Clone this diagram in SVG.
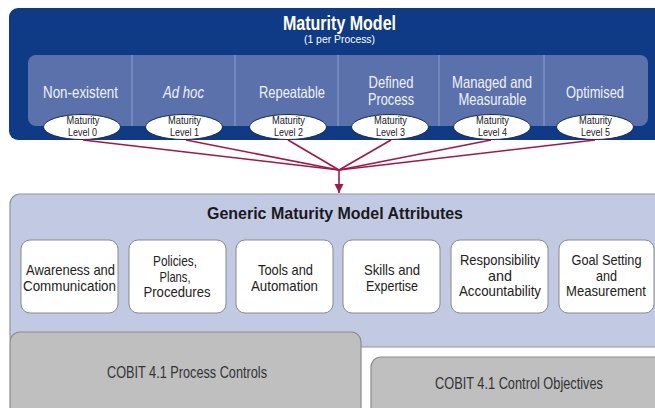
<svg xmlns="http://www.w3.org/2000/svg" width="655" height="408" viewBox="0 0 655 408">
<defs>
<style>
text{font-family:"Liberation Sans",Arial,sans-serif;text-anchor:middle}
.ttl{font-weight:bold;fill:#fff;font-size:20px}
.sub{fill:#fff;font-size:11.5px}
.lvl{fill:#eef1f8;font-size:16.5px}
.ell{fill:#fff;stroke:#1b2b55;stroke-width:1}
.el{fill:#1a1a1a;font-size:10.5px}
.attr{fill:#fff;stroke:#8a8a8a;stroke-width:1}
.at{fill:#222;font-size:15px}
.at2{fill:#222;font-size:14px}
.gray{fill:#bfbfbf;stroke:#8c8c8c;stroke-width:1.2}
.gt{fill:#333;font-size:16px}
.con{stroke:#a3164a;stroke-width:1.6;fill:none}
.div{stroke:#8e9fcf;stroke-width:1}
</style>
<marker id="arr" markerWidth="9" markerHeight="13" refX="10" refY="5" orient="auto" markerUnits="userSpaceOnUse" viewBox="0 0 10 10">
<path d="M0,0 L10,5 L0,10 z" fill="#a3164a"/>
</marker>
</defs>
<rect width="655" height="408" fill="#fff"/>

<g id="maturity-model">
<rect x="9" y="8" width="660" height="132" rx="9" fill="#0f3a85"/>
<rect x="28" y="55" width="620" height="71" rx="8" fill="#5b71ab"/>
<line class="div" x1="132" y1="55" x2="132" y2="126"/>
<line class="div" x1="235" y1="55" x2="235" y2="126"/>
<line class="div" x1="338" y1="55" x2="338" y2="126"/>
<line class="div" x1="439" y1="55" x2="439" y2="126"/>
<line class="div" x1="544" y1="55" x2="544" y2="126"/>
<text class="ttl" x="339.5" y="30" textLength="113" lengthAdjust="spacingAndGlyphs">Maturity Model</text>
<text class="sub" x="339.5" y="43" textLength="71" lengthAdjust="spacingAndGlyphs">(1 per Process)</text>
</g>

<g id="level0">
<text class="lvl" x="80.5" y="98" textLength="75" lengthAdjust="spacingAndGlyphs">Non-existent</text>
<ellipse class="ell" cx="82" cy="127" rx="38.5" ry="12.5"/>
<text class="el" x="83" y="123.5" textLength="33" lengthAdjust="spacingAndGlyphs">Maturity</text>
<text class="el" x="82.5" y="135.5" textLength="29" lengthAdjust="spacingAndGlyphs">Level 0</text>
</g>
<g id="level1">
<text class="lvl" x="183.5" y="98" font-style="italic" textLength="41" lengthAdjust="spacingAndGlyphs">Ad hoc</text>
<ellipse class="ell" cx="184" cy="127" rx="38.5" ry="12.5"/>
<text class="el" x="184.5" y="123.5" textLength="33" lengthAdjust="spacingAndGlyphs">Maturity</text>
<text class="el" x="184.5" y="135.5" textLength="29" lengthAdjust="spacingAndGlyphs">Level 1</text>
</g>
<g id="level2">
<text class="lvl" x="292" y="98" textLength="66" lengthAdjust="spacingAndGlyphs">Repeatable</text>
<ellipse class="ell" cx="288" cy="127" rx="38.5" ry="12.5"/>
<text class="el" x="288.5" y="123.5" textLength="33" lengthAdjust="spacingAndGlyphs">Maturity</text>
<text class="el" x="288.5" y="135.5" textLength="29" lengthAdjust="spacingAndGlyphs">Level 2</text>
</g>
<g id="level3">
<text class="lvl" x="391" y="88" textLength="45" lengthAdjust="spacingAndGlyphs">Defined</text>
<text class="lvl" x="391" y="105" textLength="46" lengthAdjust="spacingAndGlyphs">Process</text>
<ellipse class="ell" cx="390" cy="127" rx="38.5" ry="12.5"/>
<text class="el" x="390.5" y="123.5" textLength="33" lengthAdjust="spacingAndGlyphs">Maturity</text>
<text class="el" x="390.5" y="135.5" textLength="29" lengthAdjust="spacingAndGlyphs">Level 3</text>
</g>
<g id="level4">
<text class="lvl" x="492" y="88" textLength="80" lengthAdjust="spacingAndGlyphs">Managed and</text>
<text class="lvl" x="492.5" y="105" textLength="68" lengthAdjust="spacingAndGlyphs">Measurable</text>
<ellipse class="ell" cx="492" cy="127" rx="38.5" ry="12.5"/>
<text class="el" x="492.5" y="123.5" textLength="33" lengthAdjust="spacingAndGlyphs">Maturity</text>
<text class="el" x="492.5" y="135.5" textLength="29" lengthAdjust="spacingAndGlyphs">Level 4</text>
</g>
<g id="level5">
<text class="lvl" x="595" y="98" textLength="58" lengthAdjust="spacingAndGlyphs">Optimised</text>
<ellipse class="ell" cx="595" cy="127" rx="38.5" ry="12.5"/>
<text class="el" x="595.5" y="123.5" textLength="33" lengthAdjust="spacingAndGlyphs">Maturity</text>
<text class="el" x="595.5" y="135.5" textLength="29" lengthAdjust="spacingAndGlyphs">Level 5</text>
</g>

<g id="connectors">
<line class="con" x1="83" y1="140" x2="339" y2="170"/>
<line class="con" x1="186" y1="140" x2="339" y2="170"/>
<line class="con" x1="288" y1="140" x2="339" y2="170"/>
<line class="con" x1="391" y1="140" x2="339" y2="170"/>
<line class="con" x1="491" y1="140" x2="339" y2="170"/>
<line class="con" x1="595" y1="140" x2="339" y2="170"/>
<line class="con" x1="339" y1="170" x2="339" y2="193" marker-end="url(#arr)"/>
</g>

<g id="attributes">
<rect x="10" y="194" width="660" height="153" rx="10" fill="#c2c9e3" stroke="#8e94a8" stroke-width="1.2"/>
<text x="335" y="219" font-weight="bold" font-size="17" fill="#1a1a1a" textLength="256" lengthAdjust="spacingAndGlyphs">Generic Maturity Model Attributes</text>
</g>

<g id="awareness">
<rect class="attr" x="21" y="240" width="97" height="73" rx="9"/>
<text class="at" x="70.5" y="275" textLength="89" lengthAdjust="spacingAndGlyphs">Awareness and</text>
<text class="at" x="69.5" y="291" textLength="93" lengthAdjust="spacingAndGlyphs">Communication</text>
</g>
<g id="policies">
<rect class="attr" x="129" y="240" width="97" height="73" rx="9"/>
<text class="at" x="175" y="266" textLength="44" lengthAdjust="spacingAndGlyphs">Policies,</text>
<text class="at" x="175" y="281.5" textLength="31" lengthAdjust="spacingAndGlyphs">Plans,</text>
<text class="at" x="177" y="297" textLength="67" lengthAdjust="spacingAndGlyphs">Procedures</text>
</g>
<g id="tools">
<rect class="attr" x="236" y="240" width="97" height="73" rx="9"/>
<text class="at" x="285.5" y="275" textLength="55" lengthAdjust="spacingAndGlyphs">Tools and</text>
<text class="at" x="284.5" y="291" textLength="67" lengthAdjust="spacingAndGlyphs">Automation</text>
</g>
<g id="skills">
<rect class="attr" x="343" y="240" width="97" height="73" rx="9"/>
<text class="at" x="392" y="275" textLength="56" lengthAdjust="spacingAndGlyphs">Skills and</text>
<text class="at" x="392" y="291" textLength="52" lengthAdjust="spacingAndGlyphs">Expertise</text>
</g>
<g id="responsibility">
<rect class="attr" x="451" y="240" width="97" height="73" rx="9"/>
<text class="at" x="500" y="265" textLength="80" lengthAdjust="spacingAndGlyphs">Responsibility</text>
<text class="at" x="500" y="280.5" textLength="24" lengthAdjust="spacingAndGlyphs">and</text>
<text class="at" x="500" y="296" textLength="82" lengthAdjust="spacingAndGlyphs">Accountability</text>
</g>
<g id="goal">
<rect class="attr" x="559" y="240" width="95" height="73" rx="9"/>
<text class="at" x="606.5" y="265" textLength="70" lengthAdjust="spacingAndGlyphs">Goal Setting</text>
<text class="at" x="606.5" y="280.5" textLength="21" lengthAdjust="spacingAndGlyphs">and</text>
<text class="at2" x="606" y="296" textLength="80" lengthAdjust="spacingAndGlyphs">Measurement</text>
</g>

<g id="process-controls">
<rect class="gray" x="10" y="332" width="351" height="100" rx="10"/>
<text class="gt" x="187" y="378" textLength="160" lengthAdjust="spacingAndGlyphs">COBIT 4.1 Process Controls</text>
</g>
<g id="control-objectives">
<rect class="gray" x="371" y="357" width="300" height="80" rx="10"/>
<text class="gt" x="519" y="389" textLength="168" lengthAdjust="spacingAndGlyphs">COBIT 4.1 Control Objectives</text>
</g>
</svg>
